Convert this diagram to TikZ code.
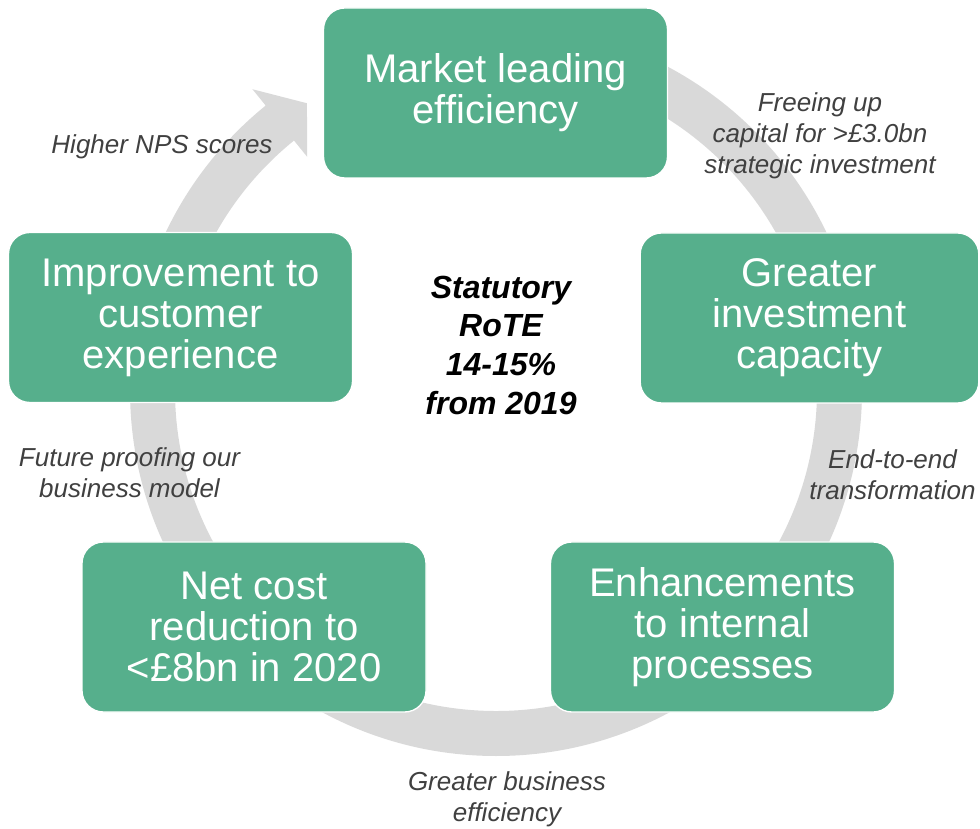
\documentclass[tikz,border=0pt]{standalone}
\usepackage{fontspec}
\setmainfont{Liberation Sans}
\usepackage{tikz}
\usetikzlibrary{positioning, calc}

\definecolor{cyclegreen}{RGB}{86,175,140}
\definecolor{ringgray}{RGB}{217,217,217}
\definecolor{notegray}{RGB}{64,64,64}

\begin{document}
\begin{tikzpicture}[
    x=0.75pt, y=0.75pt,
    box/.style={rectangle, draw=white, line width=1pt, fill=cyclegreen, rounded corners=16pt,
        minimum width=258pt, minimum height=127.5pt, align=center, text=white,
        font=\fontsize{30}{30.75}\selectfont},
    note/.style={align=center, text=notegray, font=\fontsize{19.5}{23.3}\selectfont\itshape},
    ring/.style={fill=ringgray}
]
    \useasboundingbox (0,0) rectangle (980,828);
    \coordinate (hub) at (496,438);

    % Cycle band
    \fill[ring, shift={(hub)}] (90:366) arc[start angle=90, end angle=-231, radius=366]
        -- (-231:387) -- (-236.6:343.5) -- (-231:300) -- (-231:321)
        arc[start angle=-231, end angle=90, radius=321] -- cycle;

    % Nodes
    \node[box] (mkt) at (495.5,735) {Market leading\\efficiency};
    \node[box, minimum width=254pt] (inv) at (809.5,510) {Greater\\investment\\capacity};
    \node[box] (proc) at (722.5,201) {Enhancements\\to internal\\processes};
    \node[box] (cost) at (254,201) {Net cost\\reduction to\\<£8bn in 2020};
    \node[box] (cust) at (180.5,510.5) {Improvement to\\customer\\experience};

    % Labels
    \node[align=center, font=\fontsize{24}{29}\selectfont\bfseries\itshape] (rote) at (501,483)
        {Statutory\\RoTE\\14-15\%\\from 2019};
    \node[note] (nps) at (162,681) {Higher NPS scores};
    \node[note] (capital) at (820,692) {Freeing up\\capital for >£3.0bn\\strategic investment};
    \node[note] (e2e) at (892.5,353) {End-to-end\\transformation};
    \node[note] (bizeff) at (507,29) {Greater business\\efficiency};
    \node[note] (future) at (129.5,355) {Future proofing our\\business model};
\end{tikzpicture}
\end{document}
